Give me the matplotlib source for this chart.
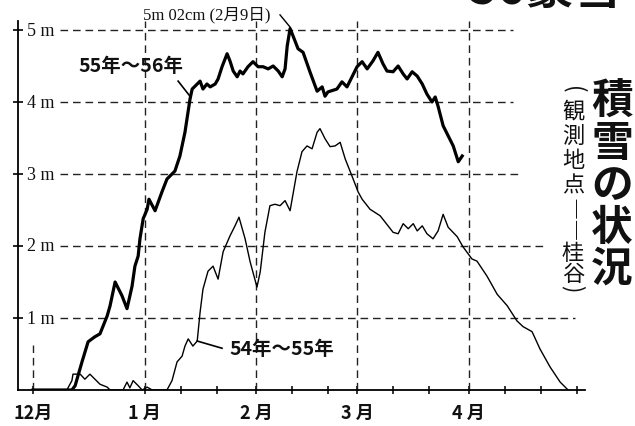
import matplotlib
matplotlib.use("Agg")
import matplotlib.pyplot as plt

# =========================
# DATA (days from Dec 1, snow depth in m)
# =========================
DAYS_5556 = [0, 10.8, 11.7, 13.6, 15.3, 17.2, 18.6, 20.6, 21.4, 22.8, 24.7, 26.1,
             27.5, 28.3, 29.2, 29.7, 30.6, 31.7, 32.2, 33.9, 35.8, 37.2, 39.4, 40.8,
             42.2, 43.6, 44.2, 45.6, 46.4, 47.2, 48.3, 49.2, 50.6, 51.4, 52.5, 53.9,
             54.7, 55.6, 56.7, 57.5, 58.3, 59.7, 61.1, 62.5, 63.9, 65.3, 66.7, 68.1,
             69.2, 70.0, 70.6, 71.4, 72.2, 73.6, 75.0, 76.9, 78.9, 80.3, 81.1, 81.9,
             84.4, 85.8, 87.2, 88.6, 90.0, 91.4, 92.8, 94.4, 95.8, 97.2, 98.3, 100.0,
             101.4, 102.8, 103.9, 105.3, 106.7, 108.1, 109.4, 110.8, 111.7, 112.5,
             113.9, 115.3, 116.7, 118.1, 119.2]
SNOW_5556 = [0, 0, 0.06, 0.39, 0.67, 0.74, 0.78, 1.03, 1.17, 1.50, 1.31, 1.13,
             1.44, 1.72, 1.86, 2.10, 2.38, 2.51, 2.65, 2.49, 2.75, 2.93, 3.04, 3.25,
             3.58, 4.04, 4.18, 4.25, 4.29, 4.18, 4.25, 4.21, 4.25, 4.32, 4.49, 4.67,
             4.57, 4.43, 4.35, 4.43, 4.39, 4.49, 4.56, 4.49, 4.49, 4.46, 4.50, 4.43,
             4.35, 4.46, 4.78, 5.02, 4.92, 4.74, 4.69, 4.42, 4.15, 4.21, 4.08, 4.14,
             4.18, 4.28, 4.21, 4.35, 4.49, 4.56, 4.46, 4.57, 4.69, 4.53, 4.43, 4.42,
             4.50, 4.39, 4.32, 4.42, 4.36, 4.25, 4.11, 4.00, 4.07, 3.94,
             3.67, 3.53, 3.39, 3.17, 3.25]

DAYS_5455 = [0, 9.4, 10.8, 11.1, 13.1, 14.4, 15.8, 17.2, 18.6, 20.6, 21.4, 25.0,
             26.1, 26.9, 27.8, 29.2, 30.3, 31.7, 33.1, 37.2, 38.6, 40.0, 41.4, 42.2,
             43.1, 44.4, 45.6, 46.4, 47.2, 48.6, 50.0, 51.4, 52.8, 54.7, 56.1, 57.2,
             58.9, 60.3, 62.2, 63.1, 64.4, 65.8, 67.2, 68.6, 70.0, 71.4, 73.3, 74.7,
             76.1, 77.5, 78.9, 79.7, 81.1, 82.5, 83.9, 85.3, 86.7, 88.6, 90.3, 91.4,
             93.6, 96.4, 98.6, 100.0, 101.4, 102.8, 104.2, 105.6, 106.7, 108.1, 109.4,
             111.1, 112.5, 113.9, 115.3, 117.8, 119.4, 121.9, 123.3, 126.1, 128.9,
             131.7, 134.4, 136.1, 138.6, 140.8, 143.6, 146.4, 148.6]
SNOW_5455 = [0, 0, 0.13, 0.22, 0.22, 0.15, 0.22, 0.15, 0.08, 0.04, 0, 0,
             0.11, 0.03, 0.13, 0.06, 0, 0.04, 0, 0, 0.13, 0.39, 0.47, 0.61,
             0.71, 0.61, 0.68, 1.08, 1.40, 1.65, 1.72, 1.54, 1.92, 2.14, 2.28, 2.40,
             2.10, 1.78, 1.43, 1.64, 2.19, 2.56, 2.58, 2.56, 2.63, 2.49, 3.03, 3.31,
             3.39, 3.35, 3.58, 3.63, 3.49, 3.38, 3.39, 3.44, 3.21, 2.97, 2.75, 2.65,
             2.51, 2.42, 2.28, 2.19, 2.17, 2.31, 2.24, 2.31, 2.21, 2.28, 2.17,
             2.10, 2.21, 2.44, 2.26, 2.13, 1.99, 1.82, 1.79, 1.58, 1.33,
             1.17, 0.96, 0.88, 0.81, 0.57, 0.32, 0.11, 0]

MONTH_DAYS = [0, 31, 62, 90, 121]
MONTH_LABELS = ["12月", "1 月", "2 月", "3 月", "4 月"]
MINOR_DAYS = [41, 51, 72, 82, 100, 110, 131, 141, 151]
Y_LEVELS = [1, 2, 3, 4, 5]
Y_LABELS = ["1 m", "2 m", "3 m", "4 m", "5 m"]

TITLE = "積雪の状況"
SUBTITLE = ["(", "観", "測", "地", "点", "――", "桂", "谷", ")"]

# =========================
# FIGURE
# =========================
W, H = 635, 427
JP = "Noto Sans CJK JP"
SERIF = ["Liberation Serif", "Noto Sans CJK JP"]

fig = plt.figure(figsize=(W / 100, H / 100), dpi=100)
ax = fig.add_axes([18 / W, 36 / H, (585 - 18) / W, (391 - 22) / H])

def fx(px):
    return px / W

def fy(py):
    return 1 - py / H

ax.set_xlim(-4.17, 153.3)
ax.set_ylim(0, 5.125)

for s in ["top", "right"]:
    ax.spines[s].set_visible(False)
ax.spines["left"].set_linewidth(1.3)
ax.spines["bottom"].set_linewidth(1.3)

# grid (dashed)
dash = (0, (5.5, 3.5))
grid_end = {1: 150.5, 2: 142.2, 3: 135.3, 4: 133.3, 5: 133.3}
for lv in Y_LEVELS:
    ax.plot([7.5, grid_end[lv]], [lv, lv], color="#222", lw=1.0, ls=dash)
for i, d in enumerate(MONTH_DAYS):
    top = 0.62 if i == 0 else 5.125
    ax.plot([d, d], [0, top], color="#222", lw=1.0, ls=dash, clip_on=False)

# data lines
ax.plot(DAYS_5455, SNOW_5455, color="black", lw=1.0)
ax.plot(DAYS_5556, SNOW_5556, color="black", lw=2.3, solid_joinstyle="round")

# ticks
ax.set_yticks(Y_LEVELS)
ax.set_yticklabels([])
ax.tick_params(axis="y", direction="inout", length=7, width=1.2)
for lv, lab in zip(Y_LEVELS, Y_LABELS):
    ax.text(-1.6, lv, lab, ha="left", va="center", fontsize=13,
            family=SERIF, color="#111")

ax.set_xticks(MONTH_DAYS)
ax.set_xticklabels(MONTH_LABELS, family=JP, fontweight="bold", fontsize=13)
ax.set_xticks(MINOR_DAYS, minor=True)
ax.tick_params(axis="x", which="both", direction="inout", length=6, width=1.2,
               pad=6, colors="#111")

# annotations
ax.text(27.2, 4.5, "55年～56年", ha="center", va="center", fontsize=14,
        family=JP, fontweight="bold", color="#111")
ax.plot([40.3, 43.6], [4.29, 4.08], color="black", lw=1.2, clip_on=False)

ax.text(69.2, 0.58, "54年～55年", ha="center", va="center", fontsize=14,
        family=JP, fontweight="bold", color="#111")
ax.plot([45.6, 52.5], [0.68, 0.58], color="black", lw=1.2)

ax.text(48.3, 5.22, "5m 02cm (2月9日)", ha="center", va="center", fontsize=12,
        family=SERIF, color="#111", clip_on=False)
ax.plot([68.6, 71.4], [5.21, 5.04], color="black", lw=1.0, clip_on=False)

# vertical title
for i, ch in enumerate(TITLE):
    fig.text(fx(612), fy(102 + 42 * i), ch, ha="center", va="center",
             fontsize=30, family=JP, fontweight="bold", color="#111")

sub_y = [90, 111, 136, 161, 186, 220, 253, 274, 289]
for ch, y in zip(SUBTITLE, sub_y):
    rot = 0
    if ch in ("(", ")", "――"):
        rot = -90
    fig.text(fx(573), fy(y), ch, ha="center", va="center", rotation=rot,
             fontsize=16, family=JP, color="#111")

# clipped headline at top right
fig.text(fx(469), fy(4), "56豪雪", ha="left", va="baseline", fontsize=35,
         family=JP, fontweight="bold", color="#111")

fig.savefig("out.png", dpi=100)
